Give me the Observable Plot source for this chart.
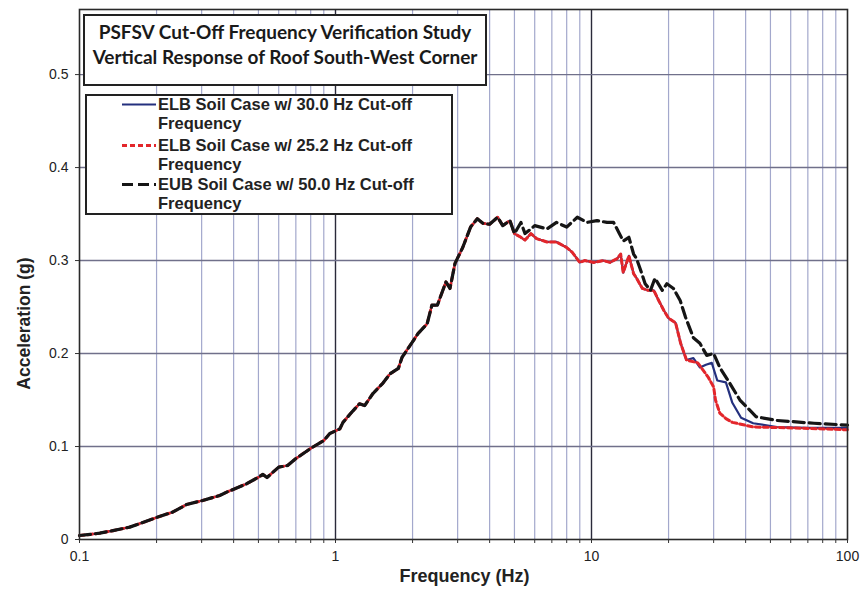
<!DOCTYPE html>
<html>
<head>
<meta charset="utf-8">
<script src="https://cdn.jsdelivr.net/npm/d3@7"></script>
<script src="https://cdn.jsdelivr.net/npm/@observablehq/plot@0.6"></script>
<style>
  html, body { margin: 0; padding: 0; background: #fff; }
  #wrap { position: relative; width: 862px; height: 594px; }
  #title {
    position: absolute; left: 83px; top: 14px; width: 404px; height: 72px;
    box-sizing: border-box; border: 2px solid #222; background: #fff;
    font-family: Lato, "Open Sans", sans-serif; font-weight: 700; font-size: 19px;
    color: #1a1a1a; text-align: center; line-height: 25px; padding-top: 3px; white-space: nowrap;
  }
  #legend {
    position: absolute; left: 85px; top: 94px; width: 368px; height: 121px;
    box-sizing: border-box; border: 2px solid #222; background: #fff;
    font-family: "Liberation Sans", Arial, sans-serif; font-weight: 700; font-size: 16.5px;
    color: #222;
  }
  .entry { position: absolute; left: 35px; line-height: 19px; white-space: nowrap; }
  .entry svg { vertical-align: top; margin-right: 2px; }
  .entry .txt { display: inline-block; vertical-align: top; }
</style>
</head>
<body>
<div id="wrap">
  <div id="chart"></div>
  <div id="title">PSFSV Cut-Off Frequency Verification Study<br>Vertical Response of Roof South-West Corner</div>
  <div id="legend"></div>
</div>
<script>
// ---- tick values / labels ----
const xMajorTicks = [0.1, 1, 10, 100];
const xMajorLabels = ["0.1", "1", "10", "100"];
const xMinorTicks = [0.2, 0.3, 0.4, 0.5, 0.6, 0.7, 0.8, 0.9,
                     2, 3, 4, 5, 6, 7, 8, 9,
                     20, 30, 40, 50, 60, 70, 80, 90];
const yTicks = [0, 0.1, 0.2, 0.3, 0.4, 0.5];
const yLabels = ["0", "0.1", "0.2", "0.3", "0.4", "0.5"];

// ---- series names ----
const seriesNames = [
  "ELB Soil Case w/ 30.0 Hz Cut-off Frequency",
  "ELB Soil Case w/ 25.2 Hz Cut-off Frequency",
  "EUB Soil Case w/ 50.0 Hz Cut-off Frequency"
];

// ---- shared low-frequency part (all three cases coincide) ----
const lowFreq = [0.1, 0.11, 0.12, 0.135, 0.157, 0.18, 0.2, 0.231, 0.262, 0.303, 0.353, 0.376, 0.4, 0.45, 0.5,
  0.52, 0.54, 0.57, 0.6, 0.65, 0.7, 0.8, 0.9, 0.95, 1.04, 1.07, 1.15, 1.24, 1.3, 1.4, 1.53, 1.63, 1.76,
  1.82, 1.96, 2.1, 2.28, 2.38, 2.5, 2.7, 2.8, 2.93, 3.14, 3.37, 3.58, 3.77, 4.0, 4.3, 4.5, 4.8, 5.0];
const lowAcc = [0.0043, 0.0055, 0.0068, 0.0095, 0.0133, 0.019, 0.0237, 0.0294, 0.0376, 0.042, 0.0473, 0.051, 0.054, 0.060, 0.067,
  0.070, 0.0667, 0.0724, 0.0778, 0.0796, 0.087, 0.098, 0.1065, 0.114, 0.119, 0.126, 0.136, 0.146, 0.144, 0.157, 0.168, 0.178, 0.184,
  0.196, 0.209, 0.2215, 0.232, 0.252, 0.252, 0.277, 0.27, 0.297, 0.314, 0.336, 0.345, 0.34, 0.339, 0.3466, 0.3376, 0.343, 0.329];

// ---- ELB cases, shared mid part ----
const elbMidFreq = [5.3, 5.5, 5.8, 6.1, 6.7, 7.3, 8.0, 8.4, 9.0, 9.4, 10.2, 11.1, 11.8, 12.6, 13.0, 13.3, 14.0,
  14.6, 15.0, 15.8, 16.6, 17.5, 18.3, 19.2, 20.0, 21.3, 22.3, 23.5];
const elbMidAcc = [0.325, 0.322, 0.329, 0.3236, 0.32, 0.32, 0.314, 0.309, 0.298, 0.3, 0.298, 0.3, 0.298, 0.302, 0.307, 0.287, 0.305,
  0.286, 0.281, 0.27, 0.268, 0.268, 0.257, 0.246, 0.238, 0.233, 0.211, 0.193];

// ---- ELB 30.0 Hz tail ----
const elb30TailFreq = [25, 26.5, 28, 29.5, 31, 33.5, 35.5, 38.4, 42.8, 53, 70, 100];
const elb30TailAcc = [0.195, 0.185, 0.188, 0.19, 0.171, 0.169, 0.147, 0.131, 0.125, 0.121, 0.12, 0.12];

// ---- ELB 25.2 Hz tail ----
const elb25TailFreq = [26, 28.5, 30, 30.5, 31.7, 33.5, 35.5, 42.8, 62, 100];
const elb25TailAcc = [0.19, 0.175, 0.164, 0.15, 0.136, 0.13, 0.126, 0.121, 0.12, 0.118];

// ---- EUB 50.0 Hz (after the shared part) ----
const eub50Freq = [5.3, 5.5, 5.8, 6.0, 6.7, 7.3, 8.0, 8.8, 9.6, 10.5, 11.5, 12.2, 12.8, 13.3, 14.0, 14.6, 15.0, 15.5,
  16.2, 17.0, 17.7, 18.9, 19.7, 20.9, 22.2, 23.3, 25, 26.5, 28.2, 30, 31.7, 34.7, 38, 44, 53, 74, 100];
const eub50Acc = [0.341, 0.329, 0.334, 0.3376, 0.334, 0.341, 0.336, 0.3466, 0.341, 0.343, 0.341, 0.341, 0.33, 0.321, 0.325, 0.307, 0.302, 0.291,
  0.275, 0.268, 0.281, 0.268, 0.275, 0.27, 0.257, 0.239, 0.217, 0.211, 0.198, 0.2, 0.185, 0.168, 0.15, 0.132, 0.128, 0.125, 0.123];

// ---- build table ----
const rows = [];
function add(series, fs, as) { fs.forEach((f, i) => rows.push({series, f, a: as[i]})); }
add(seriesNames[0], lowFreq, lowAcc); add(seriesNames[0], elbMidFreq, elbMidAcc); add(seriesNames[0], elb30TailFreq, elb30TailAcc);
add(seriesNames[1], lowFreq, lowAcc); add(seriesNames[1], elbMidFreq, elbMidAcc); add(seriesNames[1], elb25TailFreq, elb25TailAcc);
add(seriesNames[2], lowFreq, lowAcc); add(seriesNames[2], eub50Freq, eub50Acc);

const styles = [
  {stroke: "#24307e", strokeWidth: 2.2},
  {stroke: "#e3262b", strokeWidth: 3, strokeDasharray: "5,3"},
  {stroke: "#151515", strokeWidth: 3.2, strokeDasharray: "11,5"}
];

const chart = Plot.plot({
  width: 862, height: 594,
  marginLeft: 79, marginRight: 15, marginTop: 9, marginBottom: 55,
  x: {type: "log", domain: [0.1, 100]},
  y: {domain: [0, 0.57]},
  style: {fontFamily: "'Liberation Sans', Arial, sans-serif", background: "#fff", color: "#222"},
  marks: [
    Plot.ruleX(xMinorTicks, {stroke: "#a3a8cc", strokeWidth: 1.2}),
    Plot.ruleX(xMajorTicks.slice(1, 3), {stroke: "#2a2a3a", strokeWidth: 1.4}),
    Plot.ruleY(yTicks.slice(1), {stroke: "#70708a", strokeWidth: 1.4}),
    ...seriesNames.map((s, i) => Plot.line(rows.filter(r => r.series === s), {x: "f", y: "a", ...styles[i], strokeLinejoin: "round"})),
    Plot.frame({stroke: "#2a2a2a", strokeWidth: 1.6}),
    Plot.axisX(xMinorTicks, {tickSize: 4, tickFormat: () => "", stroke: "#333", label: null}),
    Plot.axisX(xMajorTicks, {tickSize: 4, tickPadding: 8, fontSize: 14, fill: "#222", stroke: "#333",
      tickFormat: d => xMajorLabels[xMajorTicks.indexOf(d)], label: null}),
    Plot.axisY(yTicks, {tickSize: 4, tickPadding: 7, fontSize: 14, fill: "#222", stroke: "#333",
      tickFormat: d => yLabels[yTicks.indexOf(d)], label: null}),
    Plot.text(["Acceleration (g)"], {frameAnchor: "left", textAnchor: "middle", dx: -55, dy: 49, rotate: -90, fontSize: 17.5, fontWeight: "bold", fill: "#222"}),
    Plot.text(["Frequency (Hz)"], {frameAnchor: "bottom", dx: 1, dy: 42, fontSize: 18, fontWeight: "bold", fill: "#222"})
  ]
});
document.getElementById("chart").appendChild(chart);

// ---- legend ----
const legendLines = [["ELB Soil Case w/ 30.0 Hz Cut-off", "Frequency"],
                     ["ELB Soil Case w/ 25.2 Hz Cut-off", "Frequency"],
                     ["EUB Soil Case w/ 50.0 Hz Cut-off", "Frequency"]];
const legendTops = [-1.5, 39.5, 78.5];
const legendDash = ["", "5,3", "11,5"];
const legend = document.getElementById("legend");
seriesNames.forEach((s, i) => {
  const e = document.createElement("div");
  e.className = "entry";
  e.style.top = legendTops[i] + "px";
  const st = styles[i];
  e.innerHTML = `<svg width="34" height="19"><line x1="0" x2="34" y1="9.5" y2="9.5" stroke="${st.stroke}" stroke-width="${st.strokeWidth}" ${legendDash[i] ? `stroke-dasharray="${legendDash[i]}"` : ""}/></svg><span class="txt">${legendLines[i][0]}<br>${legendLines[i][1]}</span>`;
  legend.appendChild(e);
});
</script>
</body>
</html>
